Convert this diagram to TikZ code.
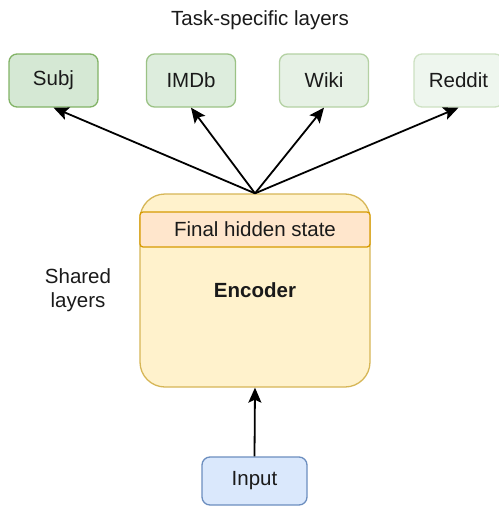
\documentclass[tikz,border=0pt]{standalone}
\usepackage{fontspec}
\setmainfont{Liberation Sans}
\usetikzlibrary{arrows.meta}
\definecolor{gfill}{HTML}{D5E8D4}
\definecolor{gline}{HTML}{82B366}
\definecolor{yfill}{HTML}{FFF2CC}
\definecolor{yline}{HTML}{D6B656}
\definecolor{ofill}{HTML}{FFE6CC}
\definecolor{oline}{HTML}{D79B00}
\definecolor{bfill}{HTML}{DAE8FC}
\definecolor{bline}{HTML}{6C8EBF}
\definecolor{txt}{HTML}{1A1A1A}
\begin{document}
\begin{tikzpicture}[x=1pt,y=-1pt,
  font=\fontsize{20.5}{24}\selectfont, text=txt,
  taskbox/.style={draw, rounded corners=8pt, line width=1.3pt, minimum width=89pt, minimum height=53pt, inner sep=0pt},
  arr/.style={-{Stealth[length=15pt,width=13pt,inset=3pt]}, line width=1.8pt, draw=black}]
\useasboundingbox (0,0) rectangle (498,506);
\node (title) at (260,20) {Task-specific layers};
\node[taskbox, fill=gfill, draw=gline] (subj) at (53.5,80.5) {Subj};
\node[taskbox, fill=gfill!80!white, draw=gline!80!white] (imdb) at (191,80.5) {IMDb};
\node[taskbox, fill=gfill!60!white, draw=gline!60!white] (wiki) at (324,80.5) {Wiki};
\node[taskbox, fill=gfill!40!white, draw=gline!40!white] (reddit) at (458.5,80.5) {Reddit};
\node[draw=yline, fill=yfill, line width=1.3pt, rounded corners=25pt, minimum width=230pt, minimum height=193pt, inner sep=0pt, font=\fontsize{20.5}{24}\selectfont\bfseries] (enc) at (255,290.5) {Encoder};
\node[draw=oline, fill=ofill, line width=1.3pt, rounded corners=3pt, minimum width=230pt, minimum height=35pt, inner sep=0pt] (hidden) at (255,229.5) {Final hidden state};
\node[draw=bline, fill=bfill, line width=1.3pt, rounded corners=8pt, minimum width=105pt, minimum height=48pt, inner sep=0pt] (input) at (254.5,481) {Input};
\node[align=center] (shared) at (78,290) {Shared\\layers};
\draw[arr] (enc.north) -- (subj.south);
\draw[arr] (enc.north) -- (imdb.south);
\draw[arr] (enc.north) -- (wiki.south);
\draw[arr] (enc.north) -- (reddit.south);
\draw[arr] (input.north) -- (enc.south);
\end{tikzpicture}
\end{document}
